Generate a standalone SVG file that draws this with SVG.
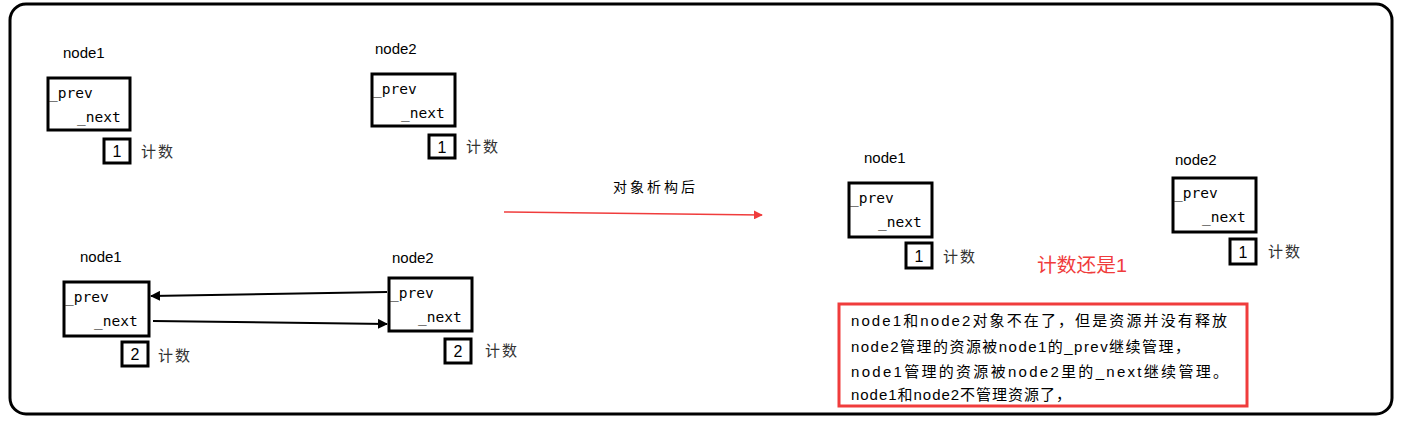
<svg xmlns="http://www.w3.org/2000/svg" width="1404" height="425" viewBox="0 0 1404 425">
<defs>
<style>
.frame{fill:#fff;stroke:#000;stroke-width:3}
.box{fill:#fff;stroke:#000;stroke-width:3}
.lbl{font-family:"Liberation Sans","Noto Sans CJK SC",sans-serif;font-size:15px;fill:#000}
.fld{font-family:"DejaVu Sans Mono","Noto Sans CJK SC",monospace;font-size:14.5px;fill:#000}
.num{font-family:"Liberation Sans",sans-serif;font-size:16px;fill:#000;text-anchor:middle}
.cnt{font-family:"Noto Sans CJK SC",sans-serif;font-size:15px;fill:#333;letter-spacing:2px}
.cap{font-family:"Noto Sans CJK SC",sans-serif;font-size:14px;fill:#000;letter-spacing:3px}
.red{font-family:"Liberation Sans","Noto Sans CJK SC",sans-serif;font-size:19px;fill:#f03c3c}
.note{font-family:"Liberation Sans","Noto Sans CJK SC",sans-serif;font-size:15px;fill:#000}
.conn{stroke:#000;stroke-width:2;fill:none}
</style>
<marker id="ah" viewBox="0 0 10 10" refX="9" refY="5" markerWidth="5" markerHeight="5" orient="auto" markerUnits="strokeWidth">
<path d="M0,0 L10,5 L0,10 z" fill="#000"/>
</marker>
<marker id="ahr" viewBox="0 0 10 10" refX="9" refY="5" markerWidth="6" markerHeight="6" orient="auto" markerUnits="strokeWidth">
<path d="M0,0 L10,5 L0,10 z" fill="#f03c3c"/>
</marker>
</defs>
<rect class="frame" x="10" y="4" width="1382" height="410" rx="16" ry="16"/>

<g id="node1-before">
<text class="lbl" x="63" y="58">node1</text>
<rect class="box" x="48" y="78" width="82" height="52"/>
<text class="fld" x="49" y="98">_prev</text>
<text class="fld" x="77" y="122">_next</text>
<rect class="box" x="104" y="139" width="26" height="24"/>
<text class="num" x="117" y="157">1</text>
<text class="cnt" x="141" y="157">计数</text>
</g>

<g id="node2-before">
<text class="lbl" x="375" y="54">node2</text>
<rect class="box" x="372" y="74" width="83" height="52"/>
<text class="fld" x="373" y="94">_prev</text>
<text class="fld" x="401" y="118">_next</text>
<rect class="box" x="429" y="135" width="26" height="23"/>
<text class="num" x="442" y="153">1</text>
<text class="cnt" x="466" y="152">计数</text>
</g>

<g id="node1-linked">
<text class="lbl" x="80" y="262">node1</text>
<rect class="box" x="64" y="282" width="85" height="54"/>
<text class="fld" x="65" y="302">_prev</text>
<text class="fld" x="94" y="326">_next</text>
<rect class="box" x="122" y="342" width="26" height="24"/>
<text class="num" x="135" y="360">2</text>
<text class="cnt" x="158" y="361">计数</text>
</g>

<g id="node2-linked">
<text class="lbl" x="392" y="263">node2</text>
<rect class="box" x="389" y="278" width="83" height="53"/>
<text class="fld" x="390" y="298">_prev</text>
<text class="fld" x="418" y="322">_next</text>
<rect class="box" x="445" y="339" width="26" height="24"/>
<text class="num" x="458" y="357">2</text>
<text class="cnt" x="485" y="356">计数</text>
</g>

<g id="connectors">
<line class="conn" x1="387" y1="292" x2="151" y2="296" marker-end="url(#ah)"/>
<line class="conn" x1="153" y1="321" x2="387" y2="324" marker-end="url(#ah)"/>
<line x1="504" y1="212" x2="762" y2="215" stroke="#f03c3c" stroke-width="1.5" marker-end="url(#ahr)"/>
</g>

<text class="cap" x="613" y="192">对象析构后</text>

<g id="node1-after">
<text class="lbl" x="864" y="163">node1</text>
<rect class="box" x="849" y="183" width="83" height="54"/>
<text class="fld" x="850" y="203">_prev</text>
<text class="fld" x="878" y="227">_next</text>
<rect class="box" x="906" y="243" width="26" height="25"/>
<text class="num" x="919" y="262">1</text>
<text class="cnt" x="943" y="262">计数</text>
</g>

<g id="node2-after">
<text class="lbl" x="1175" y="165">node2</text>
<rect class="box" x="1173" y="178" width="83" height="54"/>
<text class="fld" x="1174" y="198">_prev</text>
<text class="fld" x="1202" y="222">_next</text>
<rect class="box" x="1230" y="239" width="26" height="25"/>
<text class="num" x="1243" y="258">1</text>
<text class="cnt" x="1268" y="257">计数</text>
</g>

<text class="red" x="1037" y="272" textLength="90" lengthAdjust="spacingAndGlyphs">计数还是1</text>

<g id="note">
<rect x="839" y="304" width="408" height="102" fill="#fff" stroke="#f03c3c" stroke-width="3"/>
<text class="note" x="851" y="326" textLength="376" lengthAdjust="spacing">node1和node2对象不在了，但是资源并没有释放</text>
<text class="note" x="851" y="352" textLength="339" lengthAdjust="spacing">node2管理的资源被node1的_prev继续管理，</text>
<text class="note" x="851" y="377" textLength="377" lengthAdjust="spacing">node1管理的资源被node2里的_next继续管理。</text>
<text class="note" x="851" y="400" textLength="220" lengthAdjust="spacing">node1和node2不管理资源了，</text>
</g>
</svg>
